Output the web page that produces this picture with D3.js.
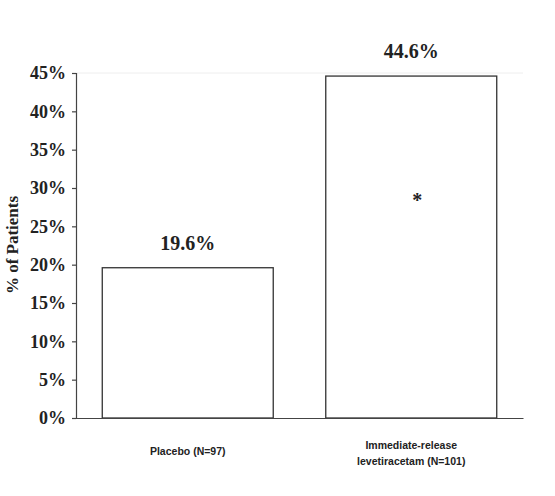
<!DOCTYPE html>
<html><head><meta charset="utf-8">
<script src="https://cdn.jsdelivr.net/npm/d3@7"></script>
<style>body{margin:0;background:#fff}</style>
</head><body>
<svg id="c" width="555" height="496"></svg>
<script>
const categories = ["Placebo (N=97)", "Immediate-release levetiracetam (N=101)"];
const categoryLines = [["Placebo (N=97)"], ["Immediate-release", "levetiracetam (N=101)"]];
const values = [19.6, 44.6];
const valueLabels = ["19.6%", "44.6%"];
const significance = ["", "*"];
const yTicks = [0, 5, 10, 15, 20, 25, 30, 35, 40, 45];

const svg = d3.select("#c");
const x = d3.scaleBand().domain(categories).range([76, 523]).paddingInner(0.235).paddingOuter(0.1175);
const y = d3.scaleLinear().domain([0, 45]).range([418, 73]);
const serif = "'Liberation Serif','Times New Roman',serif";
const narrow = "'Liberation Sans Narrow','Arial Narrow',sans-serif";
const axisColor = "#444";

// faint top frame line
svg.append("line").attr("x1", 76).attr("x2", 523).attr("y1", y(45)).attr("y2", y(45))
  .attr("stroke", "#eee").attr("stroke-width", 1);

// bars
svg.selectAll("rect.bar").data(values).enter().append("rect")
  .attr("x", (d,i) => x(categories[i]))
  .attr("y", d => y(d))
  .attr("width", x.bandwidth())
  .attr("height", d => y(0) - y(d))
  .attr("fill", "#fff").attr("stroke", "#333").attr("stroke-width", 1.3);

// y axis
const ya = svg.append("g").attr("transform", "translate(76,0)")
  .call(d3.axisLeft(y).tickValues(yTicks).tickSize(4).tickPadding(6).tickFormat(d => d + "%"));
ya.select(".domain").attr("stroke", axisColor).attr("stroke-width", 1.2);
ya.selectAll(".tick line").attr("stroke", axisColor).attr("stroke-width", 1.2);
ya.selectAll("text").attr("font-family", serif).attr("font-weight", "bold").attr("font-size", 18).attr("fill", "#222");

// x axis line
const xa = svg.append("g").attr("transform", "translate(0,418)")
  .call(d3.axisBottom(x).tickSize(0).tickFormat(""));
xa.select(".domain").attr("stroke", axisColor).attr("stroke-width", 1.2);

// category labels
categories.forEach((c, i) => {
  const t = svg.append("text").attr("text-anchor", "middle")
    .attr("font-family", narrow).attr("font-weight", "bold").attr("font-size", 10.5)
    .attr("fill", "#222");
  const lines = categoryLines[i];
  const y0 = lines.length === 1 ? 455 : 449;
  lines.forEach((l, j) => t.append("tspan").attr("x", x(c) + x.bandwidth()/2).attr("y", y0 + j*16).text(l));
});

// value labels
svg.selectAll("text.val").data(values).enter().append("text")
  .attr("x", (d,i) => x(categories[i]) + x.bandwidth()/2)
  .attr("y", d => y(d) - 18)
  .attr("text-anchor", "middle").attr("font-family", serif).attr("font-weight", "bold")
  .attr("font-size", 20).attr("fill", "#222")
  .text((d,i) => valueLabels[i]);

// significance
svg.selectAll("text.sig").data(values).enter().append("text")
  .attr("x", (d,i) => x(categories[i]) + x.bandwidth()/2 + 6)
  .attr("y", d => y(d * 0.6) - 6)
  .attr("text-anchor", "middle").attr("font-family", serif).attr("font-weight", "bold")
  .attr("font-size", 20).attr("fill", "#222")
  .text((d,i) => significance[i]);

// y title
svg.append("text").attr("transform", "translate(18,245) rotate(-90)")
  .attr("text-anchor", "middle").attr("font-family", serif).attr("font-weight", "bold")
  .attr("font-size", 17).attr("fill", "#222").text("% of Patients");
</script>
</body></html>
